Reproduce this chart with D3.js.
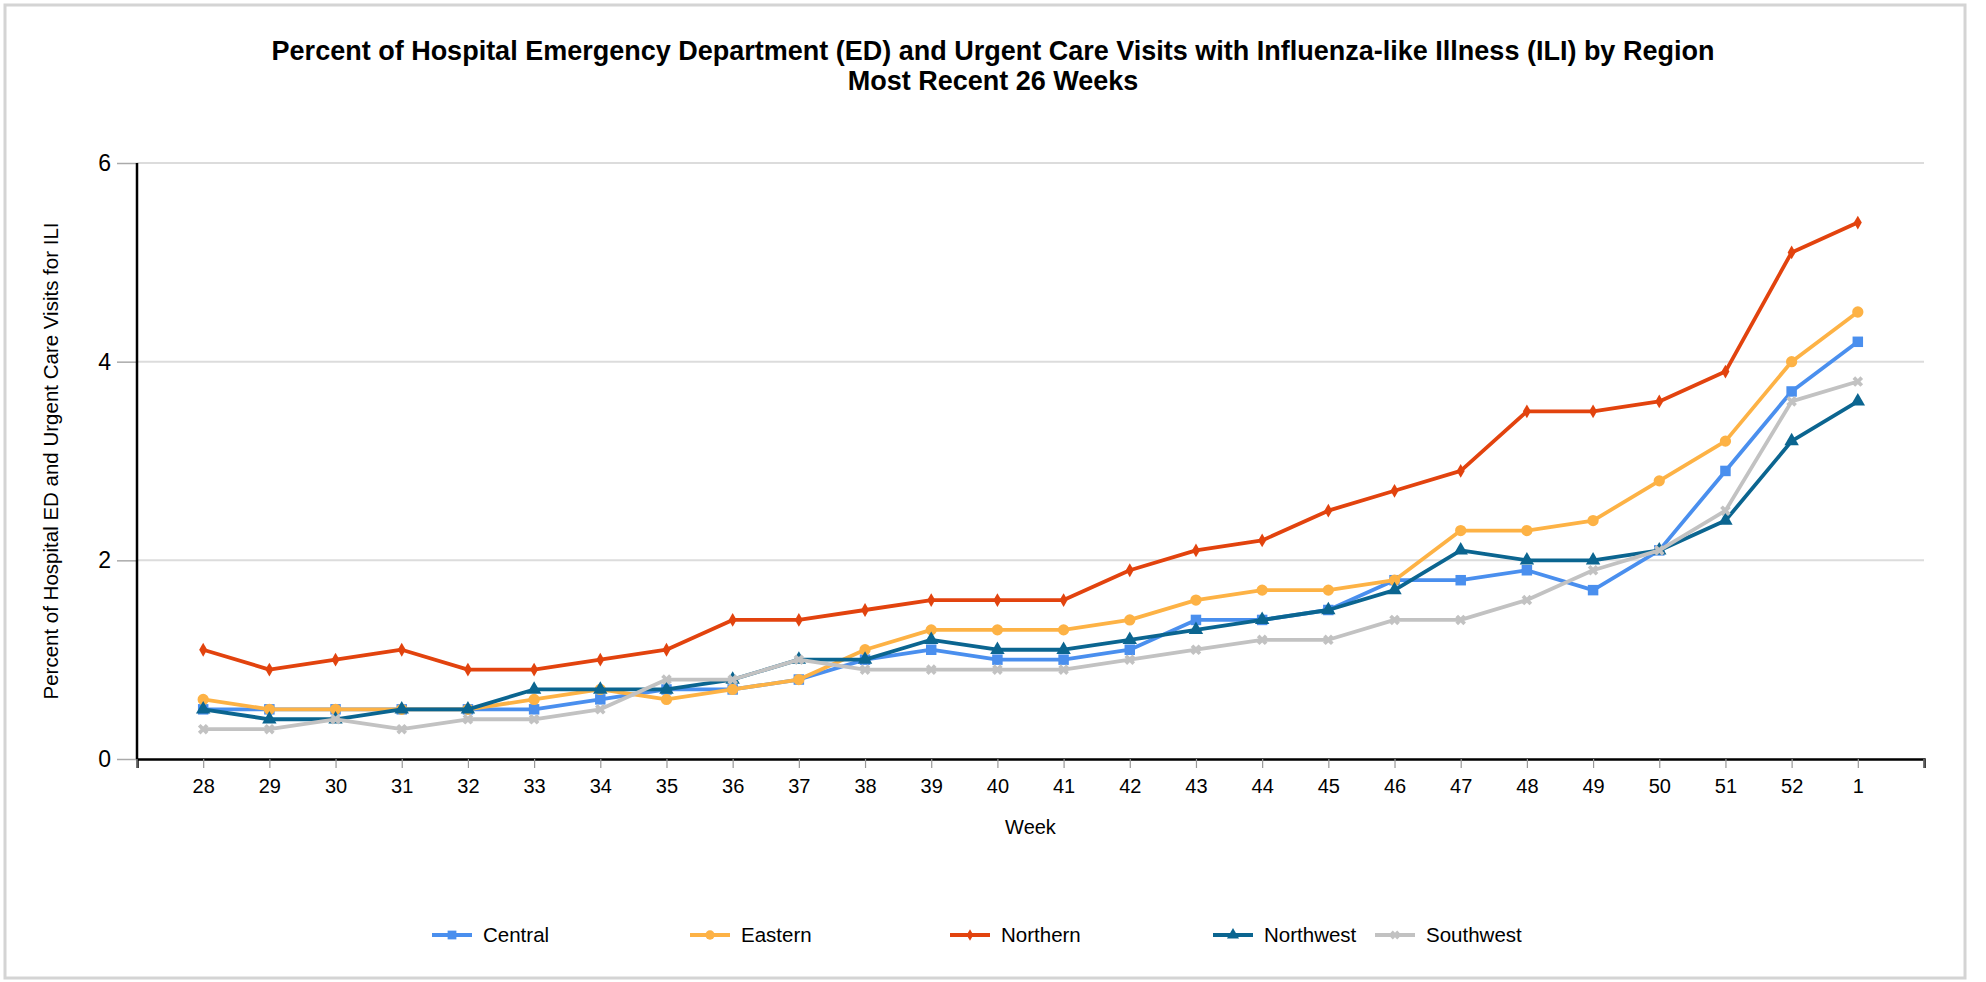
<!DOCTYPE html>
<html>
<head>
<meta charset="utf-8">
<script src="https://cdn.jsdelivr.net/npm/d3@7"></script>
<style>
  body { margin: 0; background: #fff; }
  svg { font-family: "Liberation Sans", Arial, sans-serif; }
</style>
</head>
<body>
<div id="chart"></div>
<script>
// data
const weeks = ["28","29","30","31","32","33","34","35","36","37","38","39","40","41","42","43","44","45","46","47","48","49","50","51","52","1"];
const central   = [0.5,0.5,0.5,0.5,0.5,0.5,0.6,0.7,0.7,0.8,1.0,1.1,1.0,1.0,1.1,1.4,1.4,1.5,1.8,1.8,1.9,1.7,2.1,2.9,3.7,4.2];
const eastern   = [0.6,0.5,0.5,0.5,0.5,0.6,0.7,0.6,0.7,0.8,1.1,1.3,1.3,1.3,1.4,1.6,1.7,1.7,1.8,2.3,2.3,2.4,2.8,3.2,4.0,4.5];
const northern  = [1.1,0.9,1.0,1.1,0.9,0.9,1.0,1.1,1.4,1.4,1.5,1.6,1.6,1.6,1.9,2.1,2.2,2.5,2.7,2.9,3.5,3.5,3.6,3.9,5.1,5.4];
const northwest = [0.5,0.4,0.4,0.5,0.5,0.7,0.7,0.7,0.8,1.0,1.0,1.2,1.1,1.1,1.2,1.3,1.4,1.5,1.7,2.1,2.0,2.0,2.1,2.4,3.2,3.6];
const southwest = [0.3,0.3,0.4,0.3,0.4,0.4,0.5,0.8,0.8,1.0,0.9,0.9,0.9,0.9,1.0,1.1,1.2,1.2,1.4,1.4,1.6,1.9,2.1,2.5,3.6,3.8];
const yTicks = [0, 2, 4, 6];

const seriesNames = ["Central","Eastern","Northern","Northwest","Southwest"];
const seriesValues = [central, eastern, northern, northwest, southwest];
const colors = ["#4a8fee","#fdb245","#e2430e","#0b6590","#c2c2c2"];
const symbols = [d3.symbolSquare, d3.symbolCircle, d3.symbolDiamond, d3.symbolTriangle, d3.symbolCross];
const symSizes = [110, 100, 55, 90, 70];

const W = 1986, H = 982;
const margin = {top:163, right:62, bottom:223, left:137};
const width = W - margin.left - margin.right;
const height = H - margin.top - margin.bottom;

const svg = d3.select("#chart").append("svg")
    .attr("width", W)
    .attr("height", H);

// outer frame
svg.append("rect")
    .attr("x", 5).attr("y", 5)
    .attr("width", 1960).attr("height", 973)
    .attr("fill", "#fff")
    .attr("stroke", "#d4d4d4")
    .attr("stroke-width", 3);

// title
svg.append("text")
    .attr("x", 993).attr("y", 60)
    .attr("text-anchor", "middle")
    .style("font-size", "27px").style("font-weight", "bold")
    .text("Percent of Hospital Emergency Department (ED) and Urgent Care Visits with Influenza-like Illness (ILI) by Region");
svg.append("text")
    .attr("x", 993).attr("y", 90)
    .attr("text-anchor", "middle")
    .style("font-size", "27px").style("font-weight", "bold")
    .text("Most Recent 26 Weeks");

const g = svg.append("g")
    .attr("transform", "translate(" + margin.left + "," + margin.top + ")");

const x = d3.scalePoint().domain(weeks).range([0, width]).padding(1);
const y = d3.scaleLinear().domain([0, 6]).range([height, 0]);

// gridlines
g.append("g")
    .selectAll("line")
    .data(yTicks.filter(d => d > 0))
    .enter().append("line")
    .attr("x1", 0).attr("x2", width)
    .attr("y1", d => y(d)).attr("y2", d => y(d))
    .attr("stroke", "#dcdcdc")
    .attr("stroke-width", 2);

// y axis
const yAxis = g.append("g")
    .call(d3.axisLeft(y).tickValues(yTicks).tickSize(20).tickPadding(6).tickFormat(d3.format("d")));
yAxis.select(".domain").remove();
yAxis.selectAll(".tick line").attr("stroke", "#aaa").attr("stroke-width", 1.5);
yAxis.selectAll(".tick text").style("font-size", "23px").attr("fill", "#000");
g.append("line")
    .attr("x1", 0).attr("x2", 0).attr("y1", 0).attr("y2", height)
    .attr("stroke", "#000").attr("stroke-width", 2.5);

// x axis
const xAxis = g.append("g")
    .attr("transform", "translate(0," + height + ")")
    .call(d3.axisBottom(x).tickSize(9).tickPadding(11).tickSizeOuter(9));
xAxis.select(".domain").attr("stroke", "#000").attr("stroke-width", 2.5);
xAxis.selectAll(".tick line").attr("stroke", "#999").attr("stroke-width", 1.2);
xAxis.selectAll(".tick text").style("font-size", "20px").attr("fill", "#000");
g.append("g").selectAll("line")
    .data([0, width])
    .enter().append("line")
    .attr("x1", d => d).attr("x2", d => d)
    .attr("y1", height).attr("y2", height + 9)
    .attr("stroke", "#999").attr("stroke-width", 1.2);

// axis titles
svg.append("text")
    .attr("transform", "translate(58," + (margin.top + height / 2) + ") rotate(-90)")
    .attr("text-anchor", "middle")
    .style("font-size", "20.5px")
    .text("Percent of Hospital ED and Urgent Care Visits for ILI");
svg.append("text")
    .attr("x", margin.left + width / 2).attr("y", 834)
    .attr("text-anchor", "middle")
    .style("font-size", "20px")
    .text("Week");

// lines + markers
const line = d3.line()
    .x((d, i) => x(weeks[i]))
    .y(d => y(d));

seriesValues.forEach((vals, s) => {
    g.append("path")
        .datum(vals)
        .attr("fill", "none")
        .attr("stroke", colors[s])
        .attr("stroke-width", 3.8)
        .attr("stroke-linejoin", "round")
        .attr("d", line);

    g.selectAll(".m" + s)
        .data(vals)
        .enter().append("path")
        .attr("class", "m" + s)
        .attr("transform", (d, i) => "translate(" + x(weeks[i]) + "," + y(d) + ")" + (s === 4 ? " rotate(45)" : ""))
        .attr("d", d3.symbol().type(symbols[s]).size(symSizes[s]))
        .attr("fill", colors[s]);
});

// legend
const legendX = [432, 690, 950, 1213, 1375];
const legend = svg.append("g").attr("transform", "translate(0,935)");
seriesNames.forEach((name, s) => {
    const lg = legend.append("g").attr("transform", "translate(" + legendX[s] + ",0)");
    lg.append("line")
        .attr("x1", 0).attr("x2", 40)
        .attr("stroke", colors[s]).attr("stroke-width", 4);
    lg.append("path")
        .attr("transform", "translate(20,0)" + (s === 4 ? " rotate(45)" : ""))
        .attr("d", d3.symbol().type(symbols[s]).size(symSizes[s] * 0.7))
        .attr("fill", colors[s]);
    lg.append("text")
        .attr("x", 51).attr("y", 7)
        .style("font-size", "20.5px")
        .text(name);
});
</script>
</body>
</html>
